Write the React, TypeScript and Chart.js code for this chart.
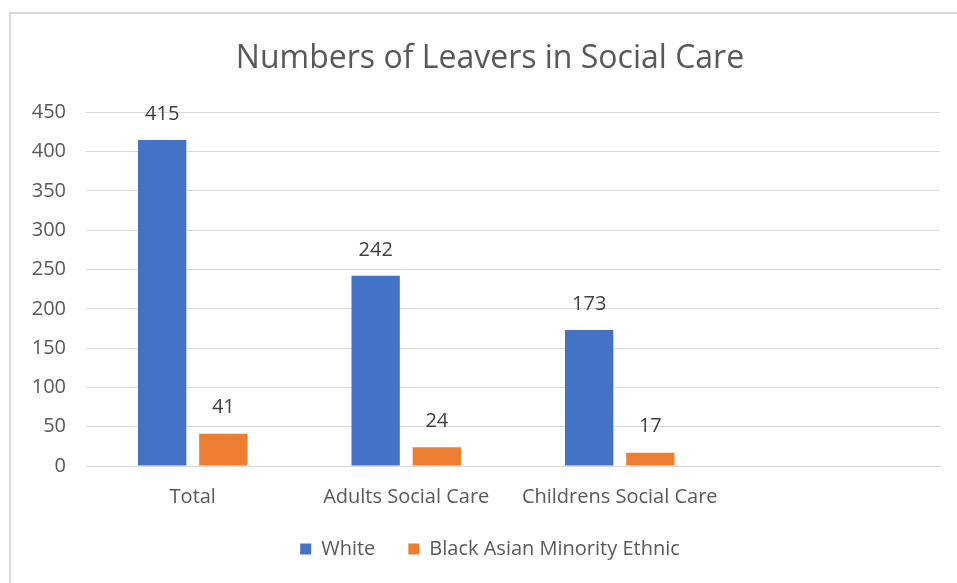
import React, { useEffect, useRef } from "react";
import { Chart, registerables } from "chart.js";

Chart.register(...registerables);

const categories = ["Total", "Adults Social Care", "Childrens Social Care", ""];
const whiteValues = [415, 242, 173, null];
const bameValues = [41, 24, 17, null];
const yTicks = [0, 50, 100, 150, 200, 250, 300, 350, 400, 450];

const FONT = "'Open Sans', sans-serif";

const framePlugin = {
  id: "frame",
  afterLayout(chart: any) {
    // let y tick labels extend left of the (narrow) axis box without clipping
    if (chart.scales.y) chart.scales.y._computeLabelArea = () => undefined;
  },
  beforeDraw(chart: any) {
    const ctx = chart.ctx;
    ctx.save();
    ctx.fillStyle = "#ffffff";
    ctx.fillRect(0, 0, chart.width, chart.height);
    ctx.strokeStyle = "#d9d9d9";
    ctx.lineWidth = 2;
    ctx.beginPath();
    ctx.moveTo(10, chart.height);
    ctx.lineTo(10, 13);
    ctx.lineTo(chart.width, 13);
    ctx.stroke();
    ctx.restore();
  },
};

const valueLabels = {
  id: "valueLabels",
  afterDatasetsDraw(chart: any) {
    const ctx = chart.ctx;
    ctx.save();
    ctx.font = `20px ${FONT}`;
    ctx.fillStyle = "#404040";
    ctx.textAlign = "center";
    ctx.textBaseline = "middle";
    chart.data.datasets.forEach((ds: any, i: number) => {
      const meta = chart.getDatasetMeta(i);
      meta.data.forEach((bar: any, j: number) => {
        const v = ds.data[j];
        if (v === null || v === undefined) return;
        ctx.fillText(String(v), bar.x, bar.y - 26);
      });
    });
    ctx.restore();
  },
};

export default function App() {
  const ref = useRef<HTMLCanvasElement | null>(null);
  useEffect(() => {
    if (!ref.current) return;
    const chart = new Chart(ref.current, {
      type: "bar",
      data: {
        labels: categories,
        datasets: [
          {
            label: "White",
            data: whiteValues,
            backgroundColor: "#4472C4",
            categoryPercentage: 0.573,
            barPercentage: 0.79,
          },
          {
            label: "Black Asian Minority Ethnic",
            data: bameValues,
            backgroundColor: "#ED7D31",
            categoryPercentage: 0.573,
            barPercentage: 0.79,
          },
        ],
      },
      options: {
        animation: false,
        responsive: false,
        layout: { padding: { left: 40, right: 17, top: 0, bottom: 14 } },
        plugins: {
          title: {
            display: true,
            text: "Numbers of Leavers in Social Care",
            color: "#595959",
            font: { family: FONT, size: 32, weight: "normal" },
            padding: { top: 40, bottom: 34 },
          },
          legend: {
            display: true,
            position: "bottom",
            labels: {
              color: "#595959",
              font: { family: FONT, size: 20 },
              boxWidth: 11,
              boxHeight: 11,
              padding: 33,
            },
          },
          tooltip: { enabled: false },
        },
        scales: {
          x: {
            grid: { display: false },
            border: { display: true, color: "#d9d9d9", width: 1 },
            ticks: {
              color: "#595959",
              font: { family: FONT, size: 20 },
              padding: 11,
              maxRotation: 0,
              autoSkip: false,
            },
            afterFit(scale: any) {
              scale.height = 40;
            },
          },
          y: {
            min: 0,
            max: 450,
            afterBuildTicks(scale: any) {
              scale.ticks = yTicks.map((v) => ({ value: v }));
            },
            grid: { color: "#d9d9d9", lineWidth: 1, drawTicks: false },
            border: { display: false },
            ticks: {
              color: "#595959",
              font: { family: FONT, size: 20 },
              padding: 20,
            },
            afterFit(scale: any) {
              scale.width = 46;
            },
          },
        },
      },
      plugins: [framePlugin, valueLabels],
    });
    return () => chart.destroy();
  }, []);
  return (
    <div style={{ position: "fixed", left: 0, top: 0, width: 957, height: 583 }}>
      <canvas ref={ref} width={957} height={583} style={{ display: "block" }} />
    </div>
  );
}
